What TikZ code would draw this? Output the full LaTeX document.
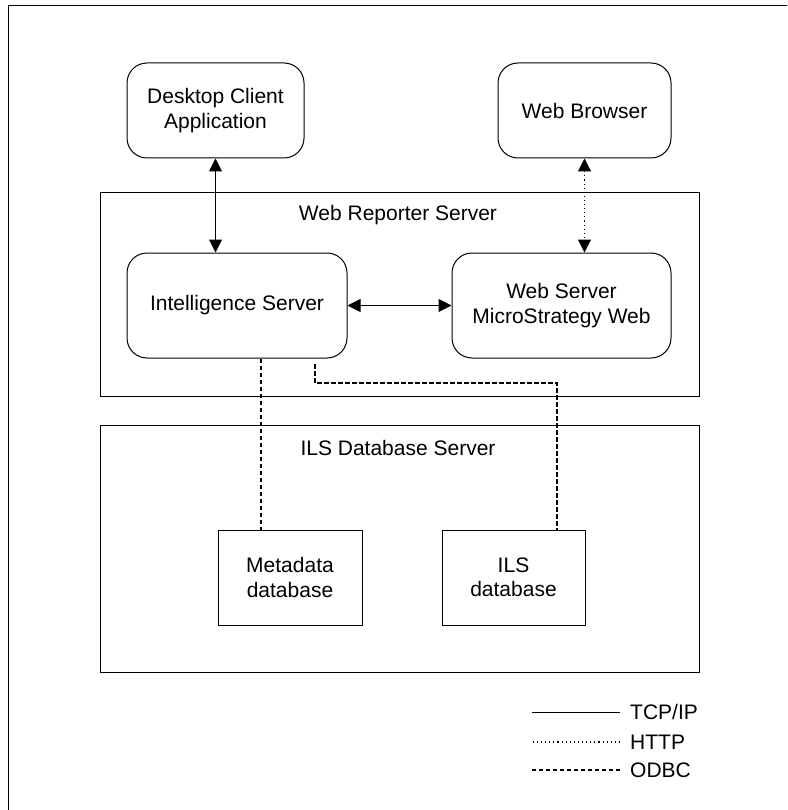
\documentclass[tikz,border=0pt]{standalone}
\usepackage{fontspec}
\setmainfont{Liberation Sans}
\usetikzlibrary{arrows.meta}

\begin{document}
\begin{tikzpicture}[
    x=1pt, y=-1pt,
    every node/.style={font=\fontsize{21}{24.5}\selectfont},
    client/.style={draw, line width=1pt, rounded corners=20pt, minimum height=95pt, align=center},
    server/.style={draw, line width=1pt, rounded corners=20pt, minimum height=105pt, minimum width=219pt, align=center},
    dbbox/.style={draw, line width=1pt, minimum width=143pt, minimum height=95pt, align=center},
    tier/.style={draw, line width=1pt, minimum width=599pt},
    tcp/.style={line width=1pt},
    http/.style={line width=1.1pt, dash pattern=on 1.1pt off 3pt},
    odbc/.style={line width=1.2pt, dash pattern=on 4.5pt off 2.5pt},
    link/.style={{Triangle[width=13pt,length=13pt]}-{Triangle[width=13pt,length=13pt]}}
]
    \useasboundingbox (0,0) rectangle (787,810);
    \clip (0,0) rectangle (787,810);

    % Outer frame
    \draw[line width=1pt] (8,6) rectangle (830,850);

    % Tiers
    \node[tier, minimum height=203pt] (reporter) at (399.5,294.5) {};
    \node (reporterlabel) at (398,215) {Web Reporter Server};
    \node[tier, minimum height=247pt] (dbserver) at (399.5,548.5) {};
    \node (dbserverlabel) at (398,448) {ILS Database Server};

    % Clients
    \node[client, minimum width=177pt] (desktop) at (215.5,110.5) {Desktop Client\\Application};
    \node[client, minimum width=173pt] (browser) at (584.5,110.5) {Web Browser};

    % Servers
    \node[server, minimum width=220pt] (intel) at (237,305.5) {Intelligence Server};
    \node[server] (websrv) at (561.5,305.5) {Web Server\\MicroStrategy Web};

    % Databases
    \node[dbbox, minimum width=144pt] (meta) at (290,577.5) {Metadata\\database};
    \node[dbbox] (ilsdb) at (513.5,577.5) {ILS\\database};

    % TCP/IP links
    \draw[tcp, link] (desktop.south) -- (desktop.south |- intel.north);
    \draw[tcp, link] (intel.east) -- (websrv.west);

    % HTTP link
    \draw[http, link] (browser.south) -- (browser.south |- websrv.north);

    % ODBC links
    \draw[odbc] ([xshift=24pt]intel.south) -- ([xshift=24pt]intel.south |- meta.north);
    \coordinate (odbcstart) at (315,364);
    \draw[odbc] (odbcstart) -- ++(0,19) -| ([xshift=43.5pt]ilsdb.north);

    % Legend
    \node[anchor=west, inner sep=0pt] (tcplabel) at (630,712) {TCP/IP};
    \node[anchor=west, inner sep=0pt] (httplabel) at (630,742) {HTTP};
    \node[anchor=west, inner sep=0pt] (odbclabel) at (630,770) {ODBC};
    \draw[tcp] ([xshift=-10pt]tcplabel.west) -- ++(-88,0);
    \draw[http] ([xshift=-10pt]httplabel.west) -- ++(-88,0);
    \draw[odbc] ([xshift=-10pt]odbclabel.west) -- ++(-88,0);
\end{tikzpicture}
\end{document}
